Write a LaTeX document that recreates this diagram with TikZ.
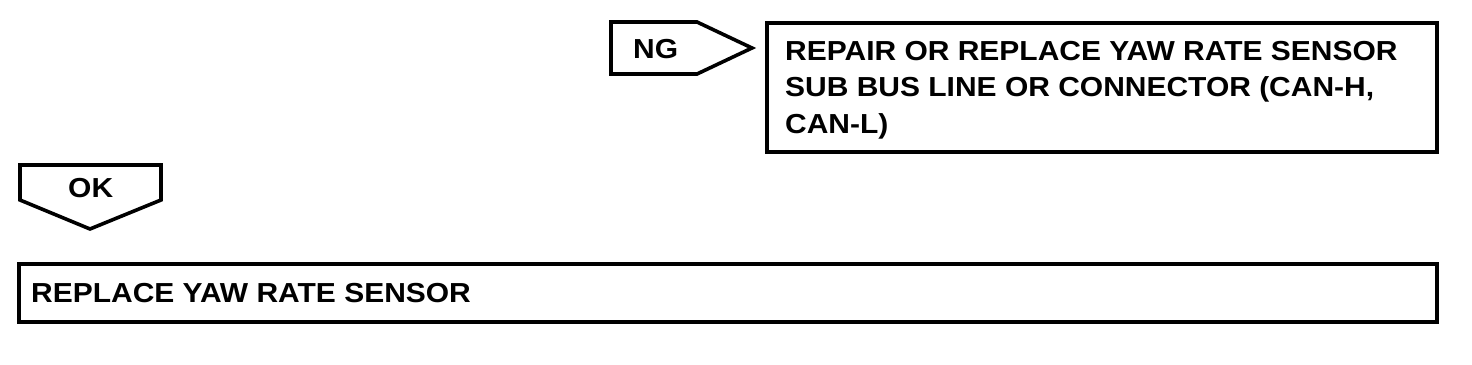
\documentclass[tikz,border=0pt]{standalone}
\usepackage{fontspec}
\setmainfont[FakeStretch=1.09]{Liberation Sans}
\usetikzlibrary{calc,positioning}
\tikzset{
  outline/.style={line width=3.6pt,line join=miter},
  label/.style={inner sep=0pt,font=\bfseries\fontsize{27.5}{36.5}\selectfont,align=left}
}

\begin{document}
\begin{tikzpicture}[x=1pt,y=-1pt]
  \useasboundingbox (0,0) rectangle (1472,364);
  % NG の矢印
  \coordinate (NGa) at (611,22);
  \coordinate (NGb) at (697,22);
  \coordinate (NGt) at (752,48);
  \coordinate (NGc) at (697,74);
  \coordinate (NGd) at (611,74);
  \draw[outline] (NGa) -- (NGb) -- (NGt) -- (NGc) -- (NGd) -- cycle;
  \node[label,anchor=base west] (ng) at (633,58) {NG};
  % 修理の箱（最終行の基線で置く）
  \draw[outline] (767,23) rectangle (1437,152);
  \node[label,anchor=base west] (repair) at (785,133)
    {REPAIR OR REPLACE YAW RATE SENSOR\\SUB BUS LINE OR CONNECTOR (CAN-H,\\CAN-L)};
  % OK の矢印
  \coordinate (OKa) at (20,165);
  \coordinate (OKb) at (161,165);
  \coordinate (OKc) at (161,200);
  \coordinate (OKt) at (90,229);
  \coordinate (OKd) at (20,200);
  \draw[outline] (OKa) -- (OKb) -- (OKc) -- (OKt) -- (OKd) -- cycle;
  \node[label,anchor=base west] (ok) at (68,197) {OK};
  % 交換の箱
  \draw[outline] (19,264) rectangle (1437,322);
  \node[label,anchor=base west] (replace) at (31,302) {REPLACE YAW RATE SENSOR};
\end{tikzpicture}
\end{document}
